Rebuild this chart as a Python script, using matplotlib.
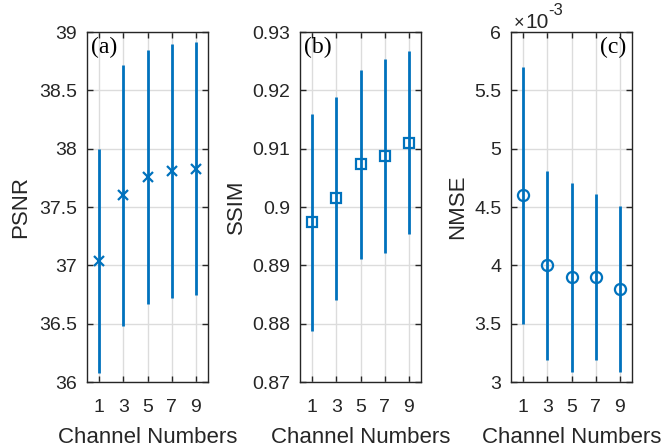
import numpy as np
import matplotlib
matplotlib.use("Agg")
import matplotlib.pyplot as plt
from matplotlib.ticker import FuncFormatter

plt.rcParams['font.family'] = ['Liberation Sans', 'DejaVu Sans']
plt.rcParams['mathtext.fontset'] = 'custom'
plt.rcParams['mathtext.rm'] = 'Liberation Sans'
plt.rcParams['mathtext.it'] = 'Liberation Sans'

# data
channels = [1, 3, 5, 7, 9]
psnr_mean = [37.04, 37.60, 37.76, 37.81, 37.83]
psnr_err = [0.96, 1.12, 1.09, 1.09, 1.085]
ssim_mean = [0.8974, 0.9015, 0.9073, 0.9088, 0.9110]
ssim_err = [0.0186, 0.0174, 0.0162, 0.0166, 0.0157]
nmse_mean = [4.60e-3, 4.00e-3, 3.90e-3, 3.90e-3, 3.80e-3]
nmse_err = [1.10e-3, 0.81e-3, 0.81e-3, 0.71e-3, 0.71e-3]

blue = '#0072BD'
dark = '#262626'

fig = plt.figure(figsize=(6.65, 4.48), dpi=100)
lefts = [87, 300, 511]
width = 121
ax_bottom = 1 - 382 / 448
ax_height = 350 / 448

panels = [
    (psnr_mean, psnr_err, 'x', 'PSNR', (36, 39), [36, 36.5, 37, 37.5, 38, 38.5, 39], '(a)'),
    (ssim_mean, ssim_err, 's', 'SSIM', (0.87, 0.93), [0.87, 0.88, 0.89, 0.9, 0.91, 0.92, 0.93], '(b)'),
    (nmse_mean, nmse_err, 'o', 'NMSE', (3e-3, 6e-3), [3e-3, 3.5e-3, 4e-3, 4.5e-3, 5e-3, 5.5e-3, 6e-3], '(c)'),
]

for i, (mean, err, mk, lab, ylim, yt, tag) in enumerate(panels):
    ax = fig.add_axes([lefts[i] / 665, ax_bottom, width / 665, ax_height])
    ax.errorbar(channels, mean, yerr=err, fmt=mk, color=blue, ecolor=blue,
                elinewidth=2, capsize=0, markersize=7 if mk != 'o' else 8,
                markerfacecolor='none', markeredgewidth=1.6, zorder=3)
    ax.set_xlim(0, 10)
    ax.set_ylim(*ylim)
    ax.set_xticks(channels)
    ax.set_yticks(yt)
    ax.grid(True, color='#dcdcdc', linewidth=1)
    ax.set_axisbelow(True)
    ax.tick_params(direction='in', top=True, right=True, length=4, width=1,
                   color=dark, labelcolor=dark, labelsize=14)
    ax.tick_params(axis='x', pad=12)
    ax.tick_params(axis='y', pad=7)
    for s in ax.spines.values():
        s.set_color(dark)
        s.set_linewidth(1)
    ax.set_xlabel('Channel Numbers', fontsize=16, color=dark, labelpad=8)
    ax.set_ylabel(lab, fontsize=16, color=dark, labelpad=6 if i == 0 else 4)
    if i == 0:
        ax.yaxis.set_major_formatter(FuncFormatter(lambda v, p: '%g' % v))
    elif i == 1:
        ax.yaxis.set_major_formatter(FuncFormatter(lambda v, p: '%g' % round(v, 3)))
    else:
        ax.yaxis.set_major_formatter(FuncFormatter(lambda v, p: '%g' % round(v * 1e3, 2)))
        # MATLAB style exponent label above the axis
        ax.text(0.02, 1.0, '\u00d7', transform=ax.transAxes, fontsize=13,
                color=dark, ha='left', va='bottom')
        ax.text(0.12, 1.0, '10', transform=ax.transAxes, fontsize=15,
                color=dark, ha='left', va='bottom')
        ax.text(0.31, 1.04, '-3', transform=ax.transAxes, fontsize=12,
                color=dark, ha='left', va='bottom')
    if i < 2:
        ax.text(0.03, 0.985, tag, transform=ax.transAxes, fontsize=17,
                family='Liberation Serif', ha='left', va='top', color='black')
    else:
        ax.text(0.955, 0.985, tag, transform=ax.transAxes, fontsize=17,
                family='Liberation Serif', ha='right', va='top', color='black')

fig.savefig('out.png', dpi=100)
